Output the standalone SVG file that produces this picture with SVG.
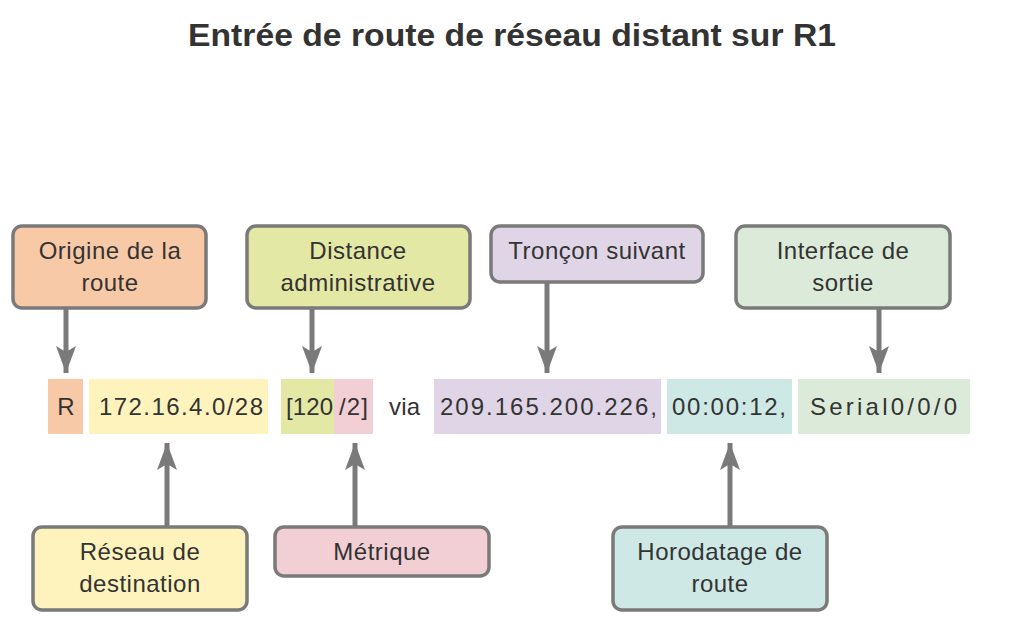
<svg xmlns="http://www.w3.org/2000/svg" width="1032" height="641" viewBox="0 0 1032 641">
<defs>
<style>
.t{font-family:"Liberation Sans",Arial,sans-serif;fill:#333;}
.title{font-size:32px;font-weight:bold;}
.lbl{font-size:24px;text-anchor:middle;letter-spacing:0.5px;}
.strip{font-size:24px;}
.box{stroke:#7a7a7a;stroke-width:3.5;}
.arr{stroke:#7a7a7a;stroke-width:5;fill:none;marker-end:url(#ah);}
</style>
<marker id="ah" markerUnits="userSpaceOnUse" markerWidth="30" markerHeight="24" viewBox="-28 -12 30 24" refX="0" refY="0" orient="auto">
<path d="M0,0 L-27,-10 L-21,0 L-27,10 Z" fill="#7a7a7a"/>
</marker>
</defs>
<rect width="1032" height="641" fill="#fff"/>
<text class="t title" x="188" y="46" textLength="648" lengthAdjust="spacingAndGlyphs">Entrée de route de réseau distant sur R1</text>

<g id="strip">
<rect x="48" y="379" width="35" height="55" fill="#f8c9a6"/>
<rect x="89" y="379" width="179" height="55" fill="#fef3bd"/>
<rect x="281" y="379" width="53" height="55" fill="#e3e8a5"/>
<rect x="334" y="379" width="39" height="55" fill="#f2ced5"/>
<rect x="434" y="379" width="227" height="55" fill="#e0d5e6"/>
<rect x="667" y="379" width="125" height="55" fill="#cde8e5"/>
<rect x="798" y="379" width="172" height="55" fill="#dcebd9"/>
<text class="t strip" x="66" y="415" text-anchor="middle">R</text>
<text class="t strip" x="99" y="415" textLength="164" lengthAdjust="spacing">172.16.4.0/28</text>
<text class="t strip" x="286" y="415" textLength="47" lengthAdjust="spacing">[120</text>
<text class="t strip" x="339" y="415" textLength="29" lengthAdjust="spacing">/2]</text>
<text class="t strip" x="389" y="415" textLength="31" lengthAdjust="spacing">via</text>
<text class="t strip" x="440" y="415" textLength="217" lengthAdjust="spacing">209.165.200.226,</text>
<text class="t strip" x="672" y="415" textLength="114" lengthAdjust="spacing">00:00:12,</text>
<text class="t strip" x="810" y="415" textLength="147" lengthAdjust="spacing">Serial0/0/0</text>
</g>

<g id="connectors">
<line class="arr" x1="66" y1="308" x2="66" y2="373"/>
<line class="arr" x1="312" y1="308" x2="312" y2="373"/>
<line class="arr" x1="547" y1="282" x2="547" y2="373"/>
<line class="arr" x1="879" y1="308" x2="879" y2="373"/>
<line class="arr" x1="167" y1="527" x2="167" y2="443"/>
<line class="arr" x1="355" y1="527" x2="355" y2="443"/>
<line class="arr" x1="730" y1="527" x2="730" y2="443"/>
</g>

<g id="origine">
<rect class="box" x="13" y="226" width="193" height="82" rx="9" fill="#f8c9a6"/>
<text class="t lbl" x="110" y="259">Origine de la</text>
<text class="t lbl" x="110" y="291">route</text>
</g>
<g id="distance">
<rect class="box" x="247" y="226" width="223" height="82" rx="9" fill="#e3e8a5"/>
<text class="t lbl" x="358" y="259">Distance</text>
<text class="t lbl" x="358" y="291">administrative</text>
</g>
<g id="troncon">
<rect class="box" x="491" y="226" width="212" height="56" rx="9" fill="#e0d5e6"/>
<text class="t lbl" x="597" y="259">Tronçon suivant</text>
</g>
<g id="interface">
<rect class="box" x="736" y="226" width="214" height="82" rx="9" fill="#dcebd9"/>
<text class="t lbl" x="843" y="259">Interface de</text>
<text class="t lbl" x="843" y="291">sortie</text>
</g>
<g id="reseau">
<rect class="box" x="33" y="527" width="214" height="83" rx="9" fill="#fef3bd"/>
<text class="t lbl" x="140" y="560">Réseau de</text>
<text class="t lbl" x="140" y="592">destination</text>
</g>
<g id="metrique">
<rect class="box" x="275" y="527" width="214" height="49" rx="9" fill="#f2ced5"/>
<text class="t lbl" x="382" y="560">Métrique</text>
</g>
<g id="horodatage">
<rect class="box" x="613" y="527" width="214" height="83" rx="9" fill="#cde8e5"/>
<text class="t lbl" x="720" y="560">Horodatage de</text>
<text class="t lbl" x="720" y="592">route</text>
</g>
</svg>
